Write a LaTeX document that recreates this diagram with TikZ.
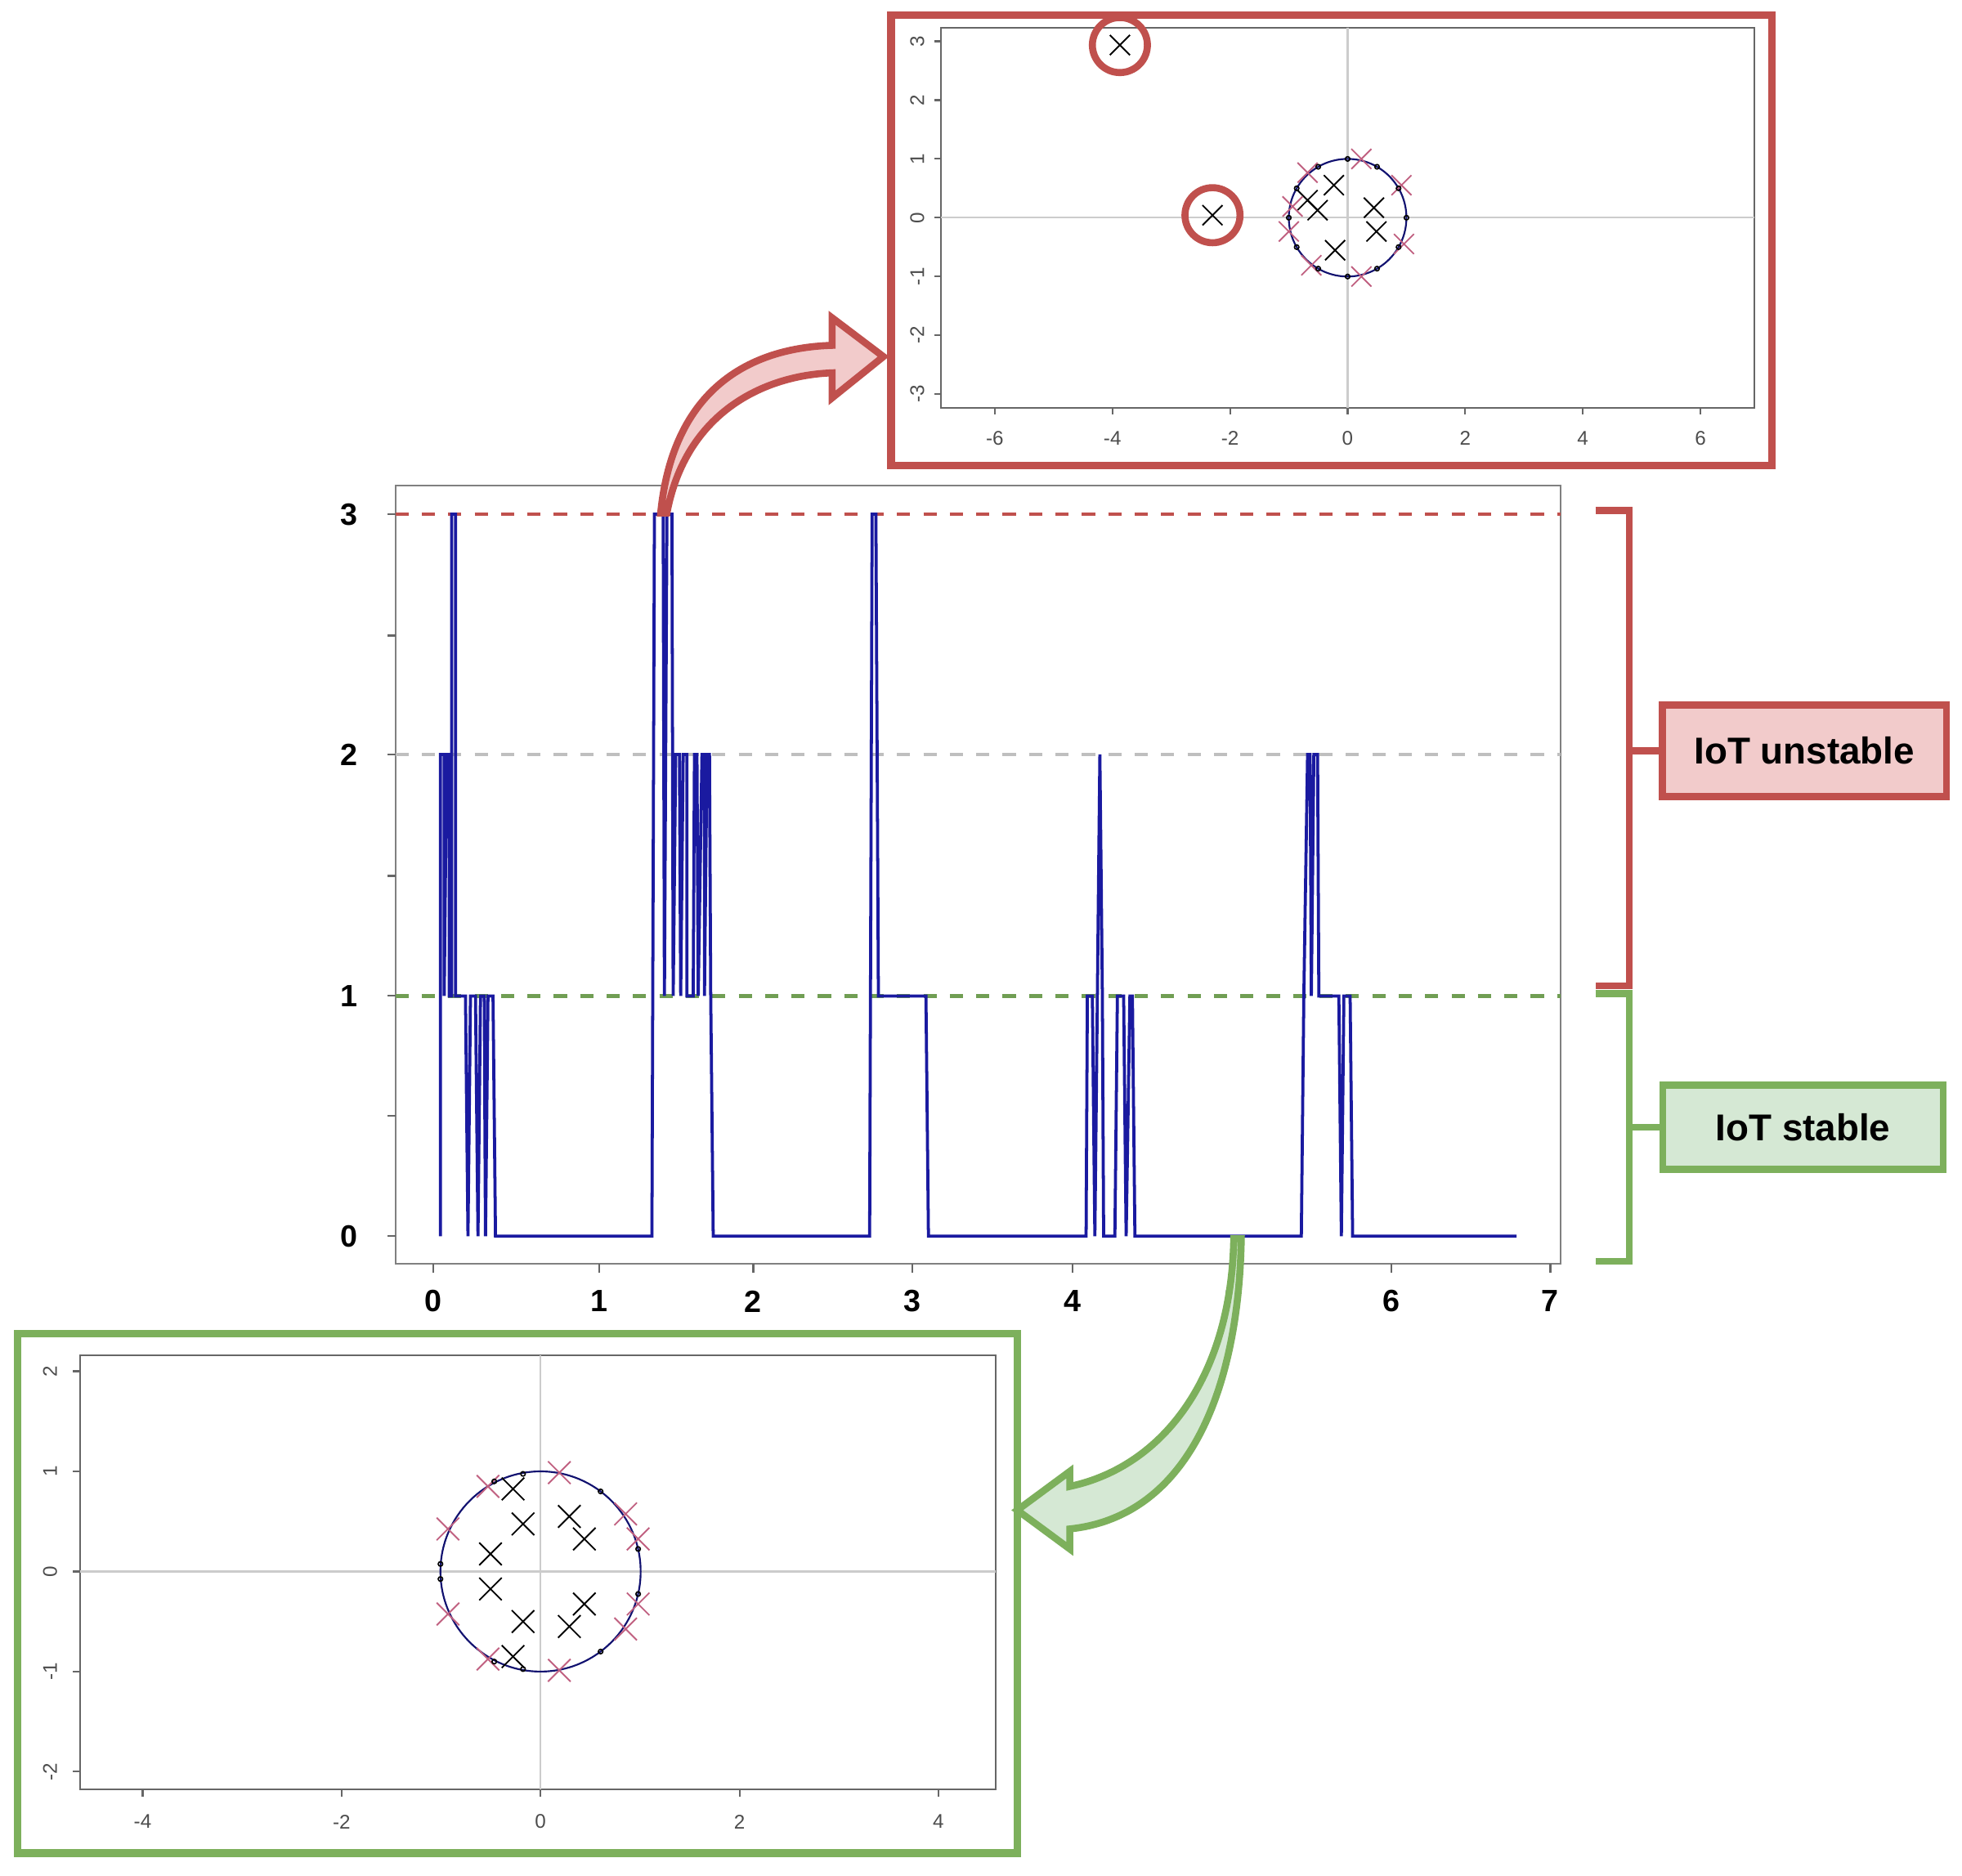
\documentclass[tikz,border=0pt]{standalone}
\usepackage{fontspec}
\setmainfont{Liberation Sans}
\usetikzlibrary{positioning}

\definecolor{redframe}{HTML}{C0504D}
\definecolor{redfill}{HTML}{F2CBCB}
\definecolor{greenframe}{HTML}{7DB05C}
\definecolor{greenfill}{HTML}{D5E8D4}
\definecolor{sigblue}{HTML}{1A1AA0}
\definecolor{pinkx}{HTML}{C06080}

\begin{document}
\begin{tikzpicture}[x=0.01cm, y=-0.01cm,
		ticklab/.style={font=\bfseries\fontsize{7}{8}\selectfont},
		smalllab/.style={font=\fontsize{4.5}{5}\selectfont, text=black!70},
		statebox/.style={draw, line width=1.6pt, minimum width=2.25cm, minimum height=0.7cm, font=\bfseries\fontsize{8.5}{10}\selectfont},
		bracket/.style={line width=1.6pt},
		frame/.style={line width=1.8pt},
		xx/.pic={\draw[line width=0.35pt] (-#1,-#1) -- (#1,#1) (-#1,#1) -- (#1,-#1);},
		zz/.pic={\draw[line width=0.3pt] (0,0) circle (1.8);},
		]
		\useasboundingbox (0,0) rectangle (1568,1499);

		% Main plot
		\draw[black!50] (316,388) rectangle (1247,1010);
		\draw[redframe, dashed, thick] (316,411) -- (1247,411);
		\draw[black!25, dashed, thick] (316,603) -- (1247,603);
		\draw[greenframe!90!black, dashed, thick] (316,796) -- (1247,796);
		\foreach \v/\py in {0/988,1/796,2/603,3/411}
			\node[ticklab] (ylab\v) at (279,\py) {\v};
		\foreach \py in {411,508,603,700,796,892,988}
			\draw[black!60] (310,\py) -- (316,\py);
		\foreach \v/\px in {0/346,1/479,2/602,3/729,4/857,5/985,6/1112,7/1239}{
			\draw[black!60] (\px,1010) -- (\px,1017);
			\node[ticklab] (xlab\v) at (\px,1040) {\v};
		}

		% Signal
		\draw[sigblue, line width=0.7pt] plot coordinates {
			(352,988) (352,603) (355,603) (355,796) (357,603) (359,603) (359,796)
			(361,796) (361,411) (364,411) (364,796) (372,796) (374,988) (376,796)
			(380,796) (382,988) (384,796) (387,796) (388,988) (390,796) (394,796)
			(396,988) (521,988) (523,411) (530,411) (531,796) (533,411) (537,411)
			(538,796) (540,603) (543,603) (544,796) (546,603) (549,603) (549,796)
			(554,796) (555,603) (557,603) (558,796) (561,603) (563,603) (563,796)
			(565,603) (567,603) (568,796) (570,988) (695,988) (697,411) (700,411)
			(702,796) (740,796) (742,988) (868,988) (869,796) (873,796) (875,988)
			(877,796) (879,603) (881,796) (882,988) (891,988) (893,796) (898,796)
			(900,988) (903,796) (905,796) (907,988) (1040,988) (1042,796) (1045,603)
			(1047,603) (1048,796) (1050,603) (1053,603) (1054,796) (1070,796)
			(1072,988) (1074,796) (1079,796) (1081,988) (1212,988)};

		% Top inset
		\draw[redframe, frame] (712,12) rectangle (1416,372);
		\draw[black!60] (752,22) rectangle (1402,326);
		\draw[black!20] (1077,22) -- (1077,326) (752,174) -- (1402,174);
		\foreach \v in {-6,-4,...,6}{
			\draw[black!60] ({1077+47*\v},326) -- ({1077+47*\v},331);
			\node[smalllab] (tx\v) at ({1077+47*\v},350) {\v};
		}
		\foreach \v in {-3,...,3}{
			\draw[black!60] (752,{174-47*\v}) -- (747,{174-47*\v});
			\node[smalllab, rotate=90] (ty\v) at (733,{174-47*\v}) {\v};
		}
		\draw[sigblue!70!black, line width=0.4pt] (1077,174) circle (47);
		\foreach \p in {(895,36),(969,172),(1045,160),(1053,168),(1066,148),(1067,200),(1098,166),(1100,185)}
			\pic at \p {xx=8};
		\foreach \p in {(1030,185),(1045,138),(1088,127),(1120,148),(1122,195),(1088,221),(1048,212),(1033,165)}
			\pic[pinkx] at \p {xx=8};
		\foreach \a in {0,30,...,330}
			\pic at ({1077+47*cos(\a)},{174-47*sin(\a)}) {zz};
		\draw[redframe, line width=1.6pt] (895,36) circle (22) (969,172) circle (22);

		% Bottom inset
		\draw[greenframe, frame] (14,1066) rectangle (813,1481);
		\draw[black!60] (64,1083) rectangle (796,1430);
		\draw[black!20] (432,1083) -- (432,1430) (64,1256) -- (796,1256);
		\foreach \v in {-4,-2,...,4}{
			\draw[black!60] ({432+79.5*\v},1430) -- ({432+79.5*\v},1436);
			\node[smalllab] (bx\v) at ({432+79.5*\v},1456) {\v};
		}
		\foreach \v in {-2,...,2}{
			\draw[black!60] (64,{1256-80*\v}) -- (58,{1256-80*\v});
			\node[smalllab, rotate=90] (by\v) at (40,{1256-80*\v}) {\v};
		}
		\draw[sigblue!70!black, line width=0.4pt] (432,1256) circle (80);
		\foreach \p in {(410,1190),(418,1218),(392,1242),(392,1270),(418,1296),(410,1324),(455,1212),(467,1230),(467,1282),(455,1300)}
			\pic at \p {xx=9};
		\foreach \p in {(447,1177),(447,1335),(358,1222),(358,1290),(390,1188),(390,1326),(500,1210),(510,1230),(500,1302),(510,1282)}
			\pic[pinkx] at \p {xx=9};
		\foreach \p in {(395,1184),(418,1178),(480,1192),(510,1238),(510,1274),(480,1320),(418,1334),(395,1328),(352,1250),(352,1262)}
			\pic at \p {zz};

		% Brackets and state boxes
		\node[statebox, draw=redframe, fill=redfill, minimum width=2.27cm, minimum height=0.73cm] (unstable) at (1442,600) {IoT unstable};
		\node[statebox, draw=greenframe, fill=greenfill, minimum width=2.24cm, minimum height=0.67cm] (stable) at (1441,901) {IoT stable};
		\draw[redframe, bracket] (1275,408) -- (1302,408) -- (1302,788) -- (1275,788);
		\draw[greenframe, bracket] (1275,794) -- (1302,794) -- (1302,1008) -- (1275,1008);
		\draw[redframe, bracket] (1302,600) -- (unstable.west);
		\draw[greenframe, bracket] (1302,901) -- (stable.west);

		% Zoom arrows
		\draw[redframe, fill=redfill, line width=1.6pt] (528,410)
			.. controls (538,310) and (600,278) .. (665,276) -- (665,254) -- (706,285)
			-- (665,318) -- (665,298) .. controls (610,300) and (548,330) .. (533,410) -- cycle;
		\draw[greenframe, fill=greenfill, line width=1.6pt] (986,990)
			.. controls (984,1100) and (930,1172) .. (855,1188) -- (855,1176) -- (813,1207)
			-- (855,1238) -- (855,1222) .. controls (950,1212) and (990,1110) .. (992,990) -- cycle;
\end{tikzpicture}
\end{document}
